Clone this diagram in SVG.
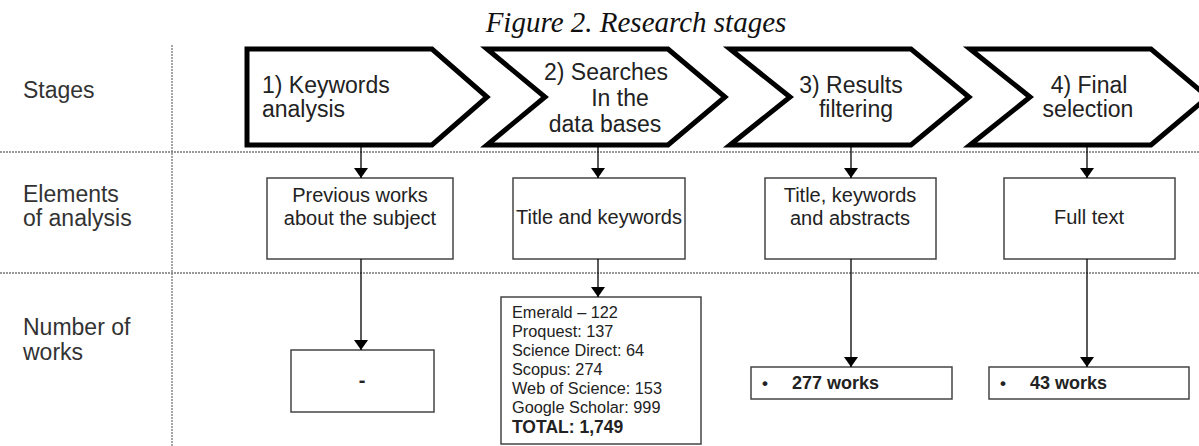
<svg xmlns="http://www.w3.org/2000/svg" width="1199" height="446" viewBox="0 0 1199 446">
<style>
.t{font-family:"Liberation Sans",Arial,sans-serif;fill:#222}
.lab{font-size:23px;fill:#333}
.chv{font-size:23px}
.bx{font-size:20px}
.src{font-size:16.3px}
.b{font-weight:bold}
.chev{fill:#fff;stroke:#000;stroke-width:5;stroke-linejoin:miter}
.box{fill:#fff;stroke:#444;stroke-width:1.5}
.dot{stroke:#777;stroke-width:1.3;stroke-dasharray:2 1;fill:none}
.con{stroke:#000;stroke-width:1.3;fill:none;marker-end:url(#ah)}
</style>
<defs>
<marker id="ah" viewBox="0 0 10 14" refX="10" refY="7" markerWidth="10" markerHeight="14" markerUnits="userSpaceOnUse" orient="auto">
<path d="M0,0 L10,7 L0,14 Z" fill="#000"/>
</marker>
</defs>
<rect width="1199" height="446" fill="#fff"/>
<text x="636" y="32" text-anchor="middle" style="font-family:'Liberation Serif','Times New Roman',serif;font-style:italic;font-size:29px;fill:#111">Figure 2. Research stages</text>
<g id="grid">
<line class="dot" x1="0" y1="152" x2="1199" y2="152"/>
<line class="dot" x1="0" y1="273" x2="1199" y2="273"/>
<line class="dot" x1="172" y1="45" x2="172" y2="446"/>
</g>
<g id="row-labels">
<text class="t lab" x="23" y="98">Stages</text>
<text class="t lab" x="23" y="202">Elements</text>
<text class="t lab" x="23" y="226">of analysis</text>
<text class="t lab" x="23" y="335">Number of</text>
<text class="t lab" x="23" y="360">works</text>
</g>
<g id="stage1">
<polygon class="chev" points="247,49 432,49 487,97 432,145 247,145"/>
<text class="t chv" x="262" y="93">1) Keywords</text>
<text class="t chv" x="262" y="117">analysis</text>
</g>
<g id="stage2">
<polygon class="chev" points="487,49 668,49 725,97 668,145 487,145 545,97"/>
<text class="t chv" x="606" y="80" text-anchor="middle">2) Searches</text>
<text class="t chv" x="620" y="106" text-anchor="middle">In the</text>
<text class="t chv" x="605" y="132" text-anchor="middle">data bases</text>
</g>
<g id="stage3">
<polygon class="chev" points="730,49 911,49 969,97 911,145 730,145 790,97"/>
<text class="t chv" x="851" y="93" text-anchor="middle">3) Results</text>
<text class="t chv" x="856" y="117" text-anchor="middle">filtering</text>
</g>
<g id="stage4">
<polygon class="chev" points="970,49 1151,49 1208,97 1151,145 970,145 1030,97"/>
<text class="t chv" x="1089" y="93" text-anchor="middle">4) Final</text>
<text class="t chv" x="1088" y="117" text-anchor="middle">selection</text>
</g>
<g id="elem1">
<rect class="box" x="267" y="178" width="186" height="81"/>
<text class="t bx" x="360" y="202" text-anchor="middle">Previous works</text>
<text class="t bx" x="360" y="225" text-anchor="middle">about the subject</text>
</g>
<g id="elem2">
<rect class="box" x="513" y="178" width="172" height="81"/>
<text class="t bx" x="599" y="224" text-anchor="middle">Title and keywords</text>
</g>
<g id="elem3">
<rect class="box" x="765" y="178" width="171" height="81"/>
<text class="t bx" x="850" y="202" text-anchor="middle">Title, keywords</text>
<text class="t bx" x="850" y="225" text-anchor="middle">and abstracts</text>
</g>
<g id="elem4">
<rect class="box" x="1004" y="178" width="171" height="81"/>
<text class="t bx" x="1089" y="224" text-anchor="middle">Full text</text>
</g>
<g id="num1">
<rect class="box" x="291" y="350" width="143" height="62"/>
<text class="t bx b" x="362" y="387" text-anchor="middle">-</text>
</g>
<g id="num2">
<rect class="box" x="501" y="297" width="200" height="147"/>
<text class="t src" x="512" y="318">Emerald – 122</text>
<text class="t src" x="512" y="337">Proquest: 137</text>
<text class="t src" x="512" y="356">Science Direct: 64</text>
<text class="t src" x="512" y="375">Scopus: 274</text>
<text class="t src" x="512" y="394">Web of Science: 153</text>
<text class="t src" x="512" y="413">Google Scholar: 999</text>
<text class="t b" x="512" y="433" style="font-size:17.5px">TOTAL: 1,749</text>
</g>
<g id="num3">
<rect class="box" x="751" y="367" width="201" height="32"/>
<text class="t b" x="762" y="389" style="font-size:17px">•</text>
<text class="t b" x="792" y="389" style="font-size:18px">277 works</text>
</g>
<g id="num4">
<rect class="box" x="989" y="367" width="200" height="32"/>
<text class="t b" x="1000" y="389" style="font-size:17px">•</text>
<text class="t b" x="1030" y="389" style="font-size:18px">43 works</text>
</g>
<g id="connectors">
<line class="con" x1="361" y1="145" x2="361" y2="178"/>
<line class="con" x1="598" y1="145" x2="598" y2="178"/>
<line class="con" x1="851" y1="145" x2="851" y2="178"/>
<line class="con" x1="1087" y1="145" x2="1087" y2="178"/>
<line class="con" x1="361" y1="259" x2="361" y2="350"/>
<line class="con" x1="598" y1="259" x2="598" y2="297"/>
<line class="con" x1="851" y1="259" x2="851" y2="367"/>
<line class="con" x1="1087" y1="259" x2="1087" y2="367"/>
</g>
</svg>
